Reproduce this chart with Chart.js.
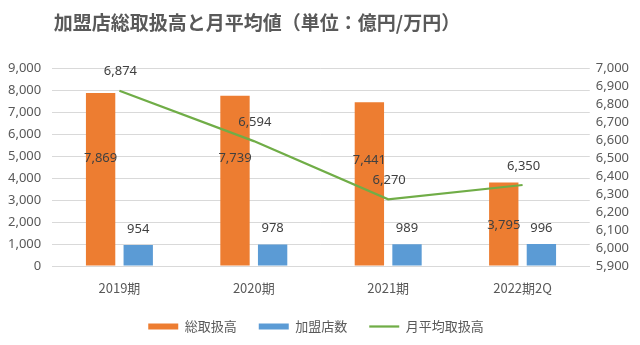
<!DOCTYPE html>
<html><head><meta charset="utf-8">
<script src="https://cdn.jsdelivr.net/npm/chart.js@4/dist/chart.umd.min.js"></script>
<style>html,body{margin:0;padding:0;background:#fff}#wrap{width:640px;height:345px}</style>
</head><body><div id="wrap"><canvas id="c" width="640" height="345"></canvas></div>
<script>
const categories = ['2019期','2020期','2021期','2022期2Q'];
const totalSales = [7869, 7739, 7441, 3795];
const storeCount = [954, 978, 989, 996];
const monthlyAvg = [6874, 6594, 6270, 6350];
const seriesNames = ['総取扱高','加盟店数','月平均取扱高'];
const titleText = '加盟店総取扱高と月平均値（単位：億円/万円）';

const FONT = '"Noto Sans", "Noto Sans CJK JP", sans-serif';
const JFONT = '"Noto Sans CJK JP", "Noto Sans", sans-serif';
const fmt = v => v.toLocaleString('en-US');

const labelPlugin = {
  id: 'valLabels',
  afterDatasetsDraw(chart) {
    const ctx = chart.ctx;
    ctx.save();
    ctx.font = '13px ' + FONT;
    ctx.fillStyle = '#404040';
    ctx.textAlign = 'center';
    ctx.textBaseline = 'middle';
    const centerOffsets = [-21, -22, -24, 1];
    chart.data.datasets.forEach((ds, di) => {
      const meta = chart.getDatasetMeta(di);
      meta.data.forEach((el, i) => {
        const v = ds.data[i];
        let x = el.x, y;
        if (di === 0) { y = (el.y + el.base) / 2 + centerOffsets[i]; }
        else if (di === 1) { y = el.y - 16; }
        else { y = el.y - 19; x = el.x + 1; }
        ctx.fillText(fmt(v), x, y);
      });
    });
    ctx.restore();
  }
};
const titlePlugin = {
  id: 'customTitle',
  afterDraw(chart) {
    const ctx = chart.ctx;
    ctx.save();
    ctx.font = 'bold 19px ' + JFONT;
    ctx.fillStyle = '#595959';
    ctx.textAlign = 'center';
    ctx.textBaseline = 'middle';
    ctx.fillText(titleText, 257, 23);
    ctx.restore();
  }
};

new Chart(document.getElementById('c'), {
  data: {
    labels: categories,
    datasets: [
      { type: 'bar', label: seriesNames[0], data: totalSales, backgroundColor: '#ED7D31', yAxisID: 'y', order: 2,
        categoryPercentage: 0.56, barPercentage: 0.78, pointStyle: 'rect' },
      { type: 'bar', label: seriesNames[1], data: storeCount, backgroundColor: '#5B9BD5', yAxisID: 'y', order: 2,
        categoryPercentage: 0.56, barPercentage: 0.78, pointStyle: 'rect' },
      { type: 'line', label: seriesNames[2], data: monthlyAvg, borderColor: '#70AD47', backgroundColor: '#70AD47',
        borderWidth: 2.25, pointRadius: 0, pointHoverRadius: 0, yAxisID: 'y1', order: 1, pointStyle: 'line', tension: 0 }
    ]
  },
  options: {
    responsive: false,
    animation: false,
    devicePixelRatio: 1,
    layout: { padding: { top: 68, left: -3, right: 5, bottom: 3 } },
    plugins: {
      title: { display: false },
      tooltip: { enabled: false },
      legend: {
        position: 'bottom',
        maxHeight: 44,
        labels: {
          usePointStyle: true, pointStyleWidth: 30, boxHeight: 6,
          font: { size: 13, family: JFONT }, color: '#595959', padding: 22,
          generateLabels(chart) {
            return chart.data.datasets.map((ds, i) => ({
              text: ds.label, fillStyle: ds.backgroundColor, strokeStyle: ds.type === 'line' ? ds.borderColor : ds.backgroundColor,
              lineWidth: ds.type === 'line' ? 2.25 : 0, pointStyle: ds.pointStyle, hidden: false, datasetIndex: i, fontColor: '#595959'
            }));
          }
        }
      }
    },
    scales: {
      x: {
        grid: { display: false, drawTicks: false },
        border: { display: true, color: '#D9D9D9' },
        ticks: { font: { size: 13, family: JFONT }, color: '#595959', padding: 14 },
        afterFit(scale) { scale.height = 32; }
      },
      y: {
        position: 'left', min: 0, max: 9000,
        ticks: { stepSize: 1000, font: { size: 13, family: FONT }, color: '#595959', padding: 11, callback: v => fmt(v) },
        grid: { color: '#D9D9D9', drawTicks: false },
        border: { display: false }
      },
      y1: {
        position: 'right', min: 5900, max: 7000,
        ticks: { stepSize: 100, autoSkip: false, font: { size: 13, family: FONT }, color: '#595959', padding: 6, callback: v => fmt(v) },
        grid: { display: false, drawTicks: false },
        border: { display: false }
      }
    }
  },
  plugins: [labelPlugin, titlePlugin]
});
</script>
</body></html>
